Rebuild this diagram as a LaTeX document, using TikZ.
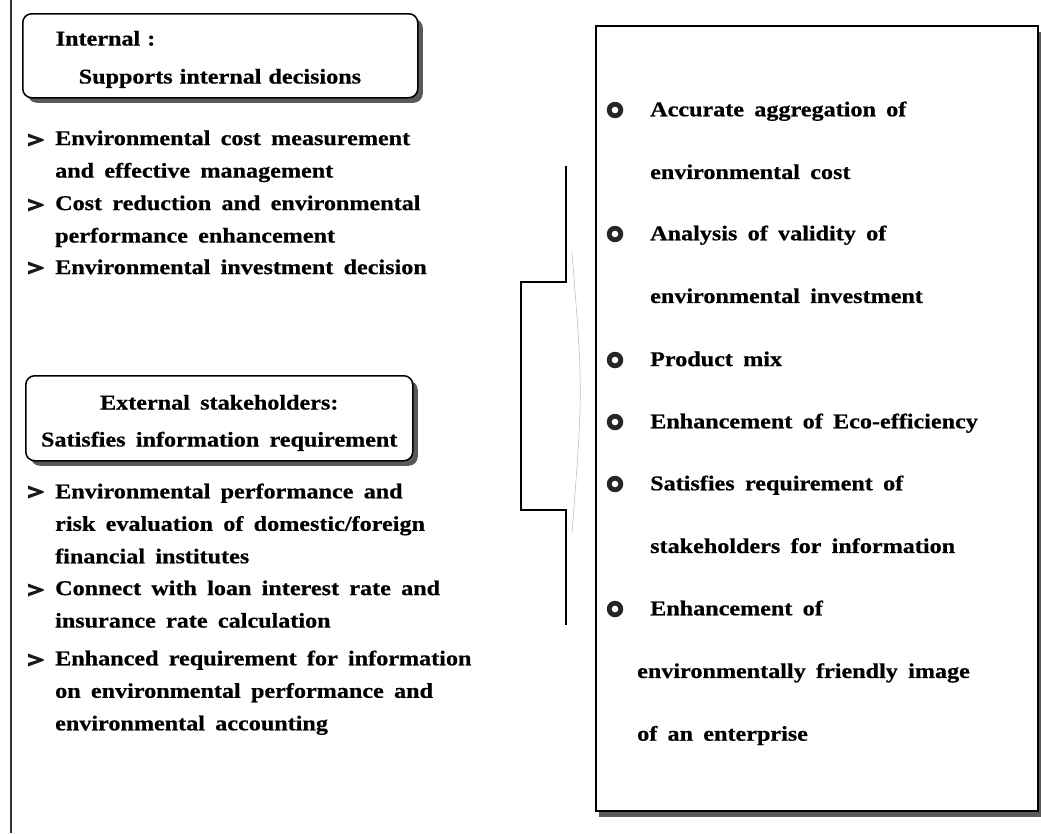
\documentclass[tikz,border=0pt]{standalone}
\usepackage{fontspec}
\setmainfont{Liberation Serif}[FakeStretch=1.15,WordSpace=1.7,BoldFeatures={FakeBold=0.6}]
\usetikzlibrary{shadows,positioning}
\tikzset{
 tagbox/.style={draw,line width=1.5pt,rounded corners=9pt,fill=white,inner ysep=0pt,
   drop shadow={shadow xshift=5pt,shadow yshift=-5pt,fill=black!65,opacity=1}},
 listbox/.style={draw,line width=1.8pt,fill=white,inner sep=0pt,
   drop shadow={shadow xshift=3pt,shadow yshift=-6pt,fill=black!65,opacity=1}},
 entry/.style={anchor=north west,align=left,inner sep=0pt,
   font=\fontsize{21}{32.5}\selectfont\bfseries},
 goal/.style={anchor=north west,align=left,inner sep=0pt,
   font=\fontsize{21}{62.7}\selectfont\bfseries},
 chev/.style={minimum width=17pt,minimum height=14pt,inner sep=0pt,
   path picture={\fill[black!90] ([shift={(0.5pt,-0.5pt)}]path picture bounding box.north west)
     -- ([shift={(-1pt,0.8pt)}]path picture bounding box.east)
     -- ([shift={(-1pt,-0.8pt)}]path picture bounding box.east)
     -- ([shift={(0.5pt,0.5pt)}]path picture bounding box.south west)
     -- ([shift={(0.5pt,4pt)}]path picture bounding box.south west)
     -- ([shift={(-7pt,0pt)}]path picture bounding box.east)
     -- ([shift={(0.5pt,-4pt)}]path picture bounding box.north west) -- cycle;}},
 ring/.style={circle,fill=black!85,minimum size=16.5pt,inner sep=0pt,
   path picture={\fill[white] (path picture bounding box.center) circle (3.3pt);}},
 bracket/.style={line width=1.6pt}
}
\begin{document}
\begin{tikzpicture}[x=1pt,y=-1pt]
\useasboundingbox (0,0) rectangle (1041,833);
% left rule
\coordinate (rtop) at (11,0);
\coordinate (rbot) at (11,833);
\draw[line width=2pt,black!80] (rtop) -- (rbot);
% headings
\node[tagbox,anchor=north west,text width=329pt,inner xsep=33pt,minimum height=84pt,
  align=left,font=\fontsize{21}{38}\selectfont\bfseries] (intl) at (22,13)
  {\rule{0pt}{22pt}Internal :\\\hspace*{23pt}Supports internal decisions};
\node[tagbox,anchor=north west,minimum width=387pt,minimum height=85pt,inner xsep=2pt,
  align=center,font=\fontsize{21}{37}\selectfont\bfseries] (extl) at (25,375)
  {\rule{0pt}{24pt}External stakeholders:\\Satisfies information requirement};
% left entries
\node[entry] (iA) at (55,130.3) {Environmental cost measurement\\and effective management};
\node[entry] (iB) at (55,195.3) {Cost reduction and environmental\\performance enhancement};
\node[entry] (iC) at (55,259.3) {Environmental investment decision};
\node[entry] (iD) at (55,483.3) {Environmental performance and\\risk evaluation of domestic/foreign\\financial institutes};
\node[entry] (iE) at (55,580.3) {Connect with loan interest rate and\\insurance rate calculation};
\node[entry] (iF) at (55,650.3) {Enhanced requirement for information\\on environmental performance and\\environmental accounting};
\foreach \y [count=\i] in {140,205,268,492,590,660}
  \node[chev] (c\i) at (36,\y) {};
% bracket
\coordinate (bt) at (566,166);
\coordinate (bb) at (566,625);
\draw[bracket] (bt) -- (566,282) -| (521,510) -- (566,510) -- (bb);
\draw[black!25,line width=0.6pt] (572,253) .. controls (583,390) .. (572,533);
% right box
\node[listbox,anchor=north west,minimum width=442pt,minimum height=785pt] (goals) at (595,25) {};
\node[goal] (g1) at (650,101.3) {Accurate aggregation of\\environmental cost};
\node[goal] (g2) at (650,225.3) {Analysis of validity of\\environmental investment};
\node[goal] (g3) at (650,351.3) {Product mix};
\node[goal] (g4) at (650,413.3) {Enhancement of Eco-efficiency};
\node[goal] (g5) at (650,475.3) {Satisfies requirement of\\stakeholders for information};
\node[goal] (g6) at (637,600.3) {\hspace*{13pt}Enhancement of\\environmentally friendly image\\of an enterprise};
\foreach \y [count=\i] in {110,234,360,422,484,609}
  \node[ring] (b\i) at (615,\y) {};
\end{tikzpicture}
\end{document}
